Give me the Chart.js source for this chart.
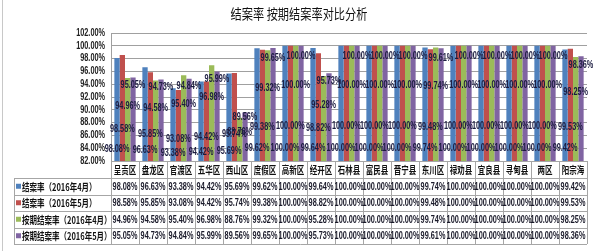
<!DOCTYPE html>
<html><head><meta charset="utf-8">
<script src="https://cdn.jsdelivr.net/npm/chart.js@4/dist/chart.umd.min.js"></script>
<style>html,body{margin:0;padding:0;background:#fff;}#wrap{width:597px;height:251px;}</style>
</head><body><div id="wrap"><canvas id="c" width="597" height="251"></canvas></div>
<script>
const categories = ['呈贡区','盘龙区','官渡区','五华区','西山区','度假区','高新区','经开区','石林县','富民县','晋宁县','东川区','禄劝县','宜良县','寻甸县','两区','阳宗海'];
const seriesNames = ['结案率（2016年4月）','结案率（2016年5月）','按期结案率（2016年4月）','按期结案率（2016年5月）'];
const closeApr = [98.08,96.63,93.38,94.42,95.69,99.62,100,99.64,100,100,100,99.74,100,100,100,100,99.42];
const closeMay = [98.58,95.85,93.08,94.42,95.74,99.38,100,98.82,100,100,100,99.48,100,100,100,100,99.53];
const onTimeApr = [94.96,94.58,95.40,96.98,88.76,99.32,100,95.28,100,100,100,99.74,100,100,100,100,98.25];
const onTimeMay = [95.05,94.73,94.84,95.99,89.56,99.65,100,95.73,100,100,100,99.61,100,100,100,100,98.36];
const yTicks = [82,84,86,88,90,92,94,96,98,100,102];
const title = '结案率 按期结案率对比分析';
const colors = ['#4F81BD','#C0504D','#9BBB59','#8064A2'];
const series = [closeApr, closeMay, onTimeApr, onTimeMay];

const SX = 0.73;
function txt(ctx, s, x, y, font, color, align, sx){
  ctx.save(); ctx.font = font; ctx.fillStyle = color; ctx.textBaseline = 'middle';
  ctx.translate(x, y); ctx.scale(sx, 1); ctx.textAlign = align; ctx.fillText(s, 0, 0); ctx.restore();
}
const NUMF = 'bold 10px "Liberation Sans", Arial, sans-serif';
const CJKF = 'bold 10px "Noto Sans CJK SC", sans-serif';
const labelFrac = [0.11, 0.30, 0.66, 0.91];

const plugin = {
  id: 'extras',
  afterDatasetsDraw(chart){
    const ctx = chart.ctx, ys = chart.scales.y;
    series.forEach((arr, di) => {
      const meta = chart.getDatasetMeta(di);
      meta.data.forEach((bar, i) => {
        const v = arr[i];
        const yv = ys.min + (v - ys.min) * labelFrac[di];
        txt(ctx, v.toFixed(2) + '%', bar.x, ys.getPixelForValue(yv), NUMF, '#1c1c40', 'center', SX);
      });
    });
  },
  afterDraw(chart){
    const ctx = chart.ctx, ca = chart.chartArea, xs = chart.scales.x, ys = chart.scales.y;
    // title
    txt(ctx, title, (ca.left + ca.right)/2 - 50, 14, '14px "Noto Sans CJK SC", sans-serif', '#111', 'center', 0.8);
    // y tick labels
    yTicks.forEach(t => txt(ctx, t.toFixed(2) + '%', ca.left - 6, ys.getPixelForValue(t), NUMF, '#222', 'right', SX));
    // table
    const cw = (ca.right - ca.left) / categories.length;
    const top = ca.bottom, hh = 17, rh = 16.5;
    const legLeft = 14;
    const bottom = top + hh + rh * 4;
    ctx.save();
    ctx.strokeStyle = '#a6a6a6'; ctx.lineWidth = 1;
    ctx.beginPath();
    // horizontal lines
    ctx.moveTo(ca.left, top + 0.5); ctx.lineTo(ca.right, top + 0.5);
    for (let r = 0; r <= 4; r++) {
      const y = Math.round(top + hh + rh * r) + 0.5;
      ctx.moveTo(legLeft, y); ctx.lineTo(ca.right, y);
    }
    // vertical lines
    for (let i = 0; i <= categories.length; i++) {
      const x = Math.round(ca.left + cw * i) + 0.5;
      ctx.moveTo(x, top); ctx.lineTo(x, bottom);
    }
    ctx.moveTo(legLeft + 0.5, top + hh); ctx.lineTo(legLeft + 0.5, bottom);
    ctx.stroke();
    // outer left line of sheet
    ctx.strokeStyle = '#c8c8c8';
    ctx.beginPath(); ctx.moveTo(2.5, 0); ctx.lineTo(2.5, 251); ctx.stroke();
    ctx.restore();
    // header
    categories.forEach((c, i) => {
      txt(ctx, c, xs.getPixelForValue(i), top + hh/2 + 0.5, CJKF, '#111', 'center', 0.75);
    });
    // rows
    series.forEach((arr, r) => {
      const yc = top + hh + rh * r + rh/2 + 0.5;
      ctx.fillStyle = colors[r];
      ctx.fillRect(legLeft + 2, yc - 3, 5, 5);
      txt(ctx, seriesNames[r], legLeft + 8, yc, CJKF, '#111', 'left', 0.75);
      arr.forEach((v, i) => txt(ctx, v.toFixed(2) + '%', xs.getPixelForValue(i), yc, NUMF, '#1a1a2a', 'center', SX));
    });
  }
};

new Chart(document.getElementById('c'), {
  type: 'bar',
  data: {
    labels: categories,
    datasets: series.map((arr, i) => ({
      label: seriesNames[i], data: arr, backgroundColor: colors[i],
      categoryPercentage: 0.76, barPercentage: 1.0, borderWidth: 0
    }))
  },
  options: {
    responsive: false, animation: false,
    devicePixelRatio: 1,
    layout: { padding: { top: 33, right: 10, bottom: 90, left: 0 } },
    plugins: { legend: { display: false }, title: { display: false }, tooltip: { enabled: false } },
    scales: {
      x: { grid: { display: false, drawTicks: false }, ticks: { display: false }, border: { display: false } },
      y: {
        min: 82, max: 102,
        ticks: { display: false, stepSize: 2 },
        grid: { color: '#a0a0a0', drawTicks: false },
        border: { display: true, color: '#a0a0a0' },
        afterFit(s){ s.width = 111; }
      }
    }
  },
  plugins: [plugin]
});
</script></body></html>
